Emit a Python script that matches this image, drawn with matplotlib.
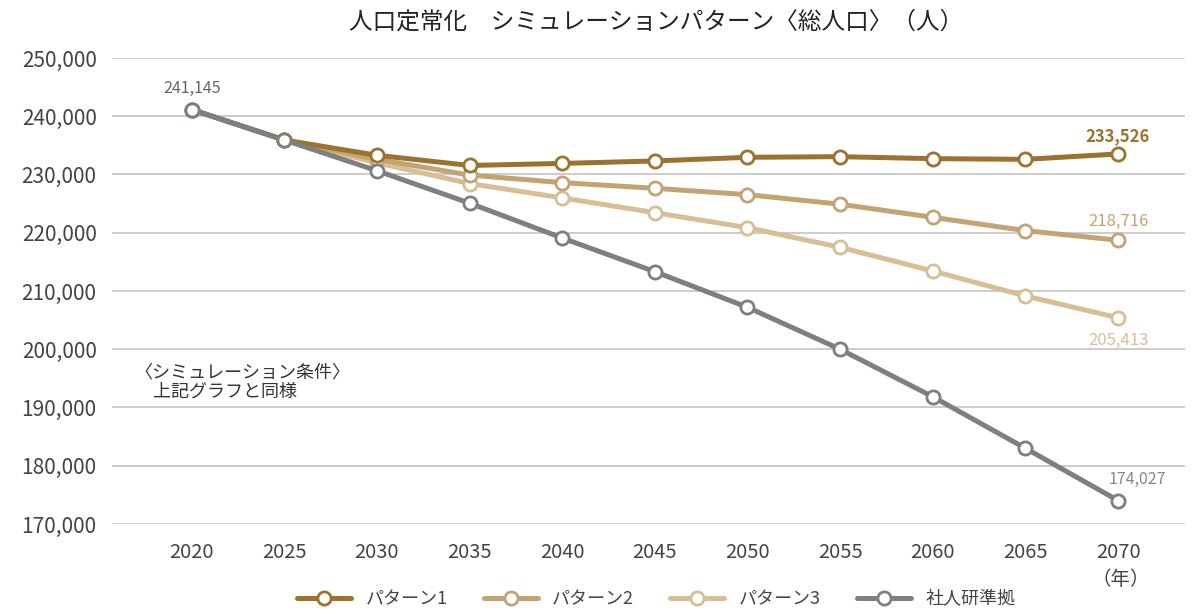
import matplotlib
matplotlib.use("Agg")
import matplotlib.pyplot as plt
from matplotlib.ticker import FuncFormatter

plt.rcParams['font.family'] = ['Noto Sans CJK JP', 'DejaVu Sans']

years = [2020, 2025, 2030, 2035, 2040, 2045, 2050, 2055, 2060, 2065, 2070]
pattern1 = [241145, 235920, 233300, 231550, 231900, 232320, 232950, 233060, 232720, 232600, 233526]
pattern2 = [241145, 235920, 232600, 229900, 228600, 227630, 226540, 224900, 222650, 220360, 218716]
pattern3 = [241145, 235920, 232000, 228450, 225980, 223450, 220870, 217500, 213430, 209140, 205413]
shajinken = [241145, 235920, 230650, 225080, 219100, 213320, 207200, 200000, 191850, 183000, 174027]

names = ['パターン1', 'パターン2', 'パターン3', '社人研準拠']
colors = ['#9c722e', '#c4a373', '#d8be95', '#7f7f7f']
series = [pattern1, pattern2, pattern3, shajinken]
zorders = [4, 3, 2, 5]

fig = plt.figure(figsize=(12.04, 6.11), dpi=100)
ax = fig.add_axes([0.093, 0.1424, 0.891, 0.7627])

for vals, name, c, z in zip(series, names, colors, zorders):
    ax.plot(years, vals, color=c, lw=3.6, marker='o', ms=9.5, mfc='white',
            mec=c, mew=2.0, label=name, zorder=z, solid_capstyle='round')

ax.set_ylim(170000, 250000)
ax.set_xlim(2015.7, 2073.6)
ax.set_yticks(range(170000, 250001, 10000))
ax.set_xticks(years)
ax.yaxis.set_major_formatter(FuncFormatter(lambda v, p: f'{int(v):,}'))
ax.grid(axis='y', color='#c8c8c8', lw=1.3)
ax.set_axisbelow(True)
for s in ax.spines.values():
    s.set_visible(False)
ax.tick_params(length=0, colors='#444444')
ax.tick_params(axis='y', pad=11, labelsize=15)
ax.tick_params(axis='x', pad=13, labelsize=14.5)

# value labels
ax.annotate(f'{pattern1[0]:,}', (years[0], pattern1[0]), xytext=(0, 12),
            textcoords='offset points', ha='center', fontsize=11.5, color='#666666')
ax.annotate(f'{pattern1[-1]:,}', (years[-1], pattern1[-1]), xytext=(0, 9),
            textcoords='offset points', ha='center', fontsize=12, color=colors[0],
            fontweight='bold')
ax.annotate(f'{pattern2[-1]:,}', (years[-1], pattern2[-1]), xytext=(0, 10),
            textcoords='offset points', ha='center', fontsize=12, color=colors[1])
ax.annotate(f'{pattern3[-1]:,}', (years[-1], pattern3[-1]), xytext=(0, -10),
            textcoords='offset points', ha='center', va='top', fontsize=12, color=colors[2])
ax.annotate(f'{shajinken[-1]:,}', (years[-1], shajinken[-1]), xytext=(14, 12),
            textcoords='offset points', ha='center', fontsize=11.5, color='#888888')

fig.text(0.112, 0.345, '〈シミュレーション条件〉\n　上記グラフと同様', fontsize=13,
         color='#333333', va='bottom', linespacing=1.05)
fig.text(0.931, 0.042, '（年）', fontsize=14, color='#444444', ha='center')

fig.suptitle('人口定常化　シミュレーションパターン〈総人口〉（人）', x=0.545, y=0.982,
             fontsize=17, color='#222222')

fig.legend(loc='lower center', bbox_to_anchor=(0.545, -0.022), ncol=4, frameon=False,
           fontsize=13, handlelength=3, columnspacing=2.0, labelcolor='#444444')

fig.savefig('out.png', dpi=100)
